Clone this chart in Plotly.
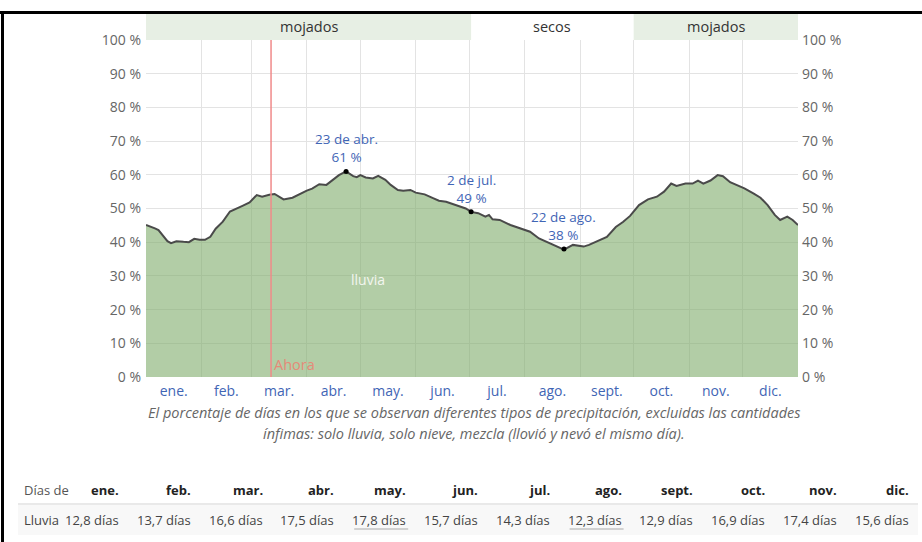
import plotly.graph_objects as go

# ---------------- data ----------------
days = [0, 3, 5, 7, 10, 12, 14, 17, 21, 24, 27, 30, 33, 36, 39, 43, 47, 51, 54, 58,
        62, 65, 69, 72, 77, 82, 86, 90, 93, 97, 101, 105, 108, 112, 116, 118, 120, 123,
        127, 130, 134, 137, 141, 144, 148, 151, 156, 161, 164, 168, 174, 179, 182, 186,
        190, 192, 194, 198, 204, 209, 215, 220, 226, 231, 234, 239, 245, 248, 254, 258,
        263, 267, 271, 276, 281, 286, 290, 294, 297, 302, 306, 309, 312, 316, 320, 323,
        327, 331, 335, 340, 344, 348, 352, 355, 359, 362, 365]
rain_pct = [45.1, 44.6, 44.1, 43.6, 41.5, 40.3, 39.7, 40.3, 40.1, 40.0, 41.0, 40.7, 40.7,
            41.6, 44.0, 46.1, 49.1, 50.2, 50.8, 51.8, 54.0, 53.5, 54.1, 54.3, 52.7, 53.2,
            54.3, 55.3, 55.9, 57.2, 57.0, 58.5, 59.9, 61.0, 59.6, 59.3, 59.9, 59.2, 58.9,
            59.7, 58.5, 57.0, 55.5, 55.3, 55.5, 54.7, 54.2, 53.0, 52.3, 52.0, 51.0, 50.0,
            49.0, 48.6, 47.6, 48.1, 46.8, 46.6, 45.1, 44.1, 43.1, 41.1, 39.7, 38.5, 37.8,
            39.2, 38.7, 39.2, 40.7, 41.6, 44.5, 46.0, 47.8, 51.0, 52.7, 53.5, 55.0, 57.4,
            56.7, 57.4, 57.4, 58.3, 57.4, 58.3, 59.9, 59.6, 57.8, 57.0, 56.0, 54.5, 53.2,
            51.0, 48.1, 46.6, 47.6, 46.6, 45.1]

month_labels = ["ene.", "feb.", "mar.", "abr.", "may.", "jun.", "jul.", "ago.", "sept.",
                "oct.", "nov.", "dic."]
month_starts = [0, 31, 59, 90, 120, 151, 181, 212, 243, 273, 304, 334, 365]
y_ticks = [0, 10, 20, 30, 40, 50, 60, 70, 80, 90, 100]
y_ticktext = [f"{v} %" for v in y_ticks]

highlight_days = [112, 182, 234]
highlight_vals = [61, 49, 38]
highlight_labels = ["23 de abr.", "2 de jul.", "22 de ago."]

seasons = [("mojados", 0, 182, True), ("secos", 182, 273, False), ("mojados", 273, 365, True)]
now_day = 70

table_values = ["12,8 días", "13,7 días", "16,6 días", "17,5 días", "17,8 días", "15,7 días",
                "14,3 días", "12,3 días", "12,9 días", "16,9 días", "17,4 días", "15,6 días"]

# ---------------- layout helpers ----------------
W, H = 922, 542
L, R, T, B = 146, 798, 40, 377


def px(xp):
    return (xp - L) / (R - L)


def py(yp):
    return (B - yp) / (B - T)


month_mids = [(month_starts[i] + month_starts[i + 1]) / 2 for i in range(12)]
blue = "#3f65b5"
gray = "#666666"
FONT = "Open Sans, Noto Sans, sans-serif"

fig = go.Figure()

fig.add_trace(go.Scatter(
    x=days, y=rain_pct, mode="lines", fill="tozeroy",
    line=dict(color="#4a4a4a", width=2),
    fillcolor="rgba(127,172,107,0.6)", hoverinfo="skip", showlegend=False))

fig.add_trace(go.Scatter(
    x=highlight_days, y=highlight_vals, mode="markers",
    marker=dict(color="black", size=5), showlegend=False, hoverinfo="skip"))

# invisible trace to activate secondary axes
fig.add_trace(go.Scatter(x=[0, 365], y=[0, 100], xaxis="x2", yaxis="y2", mode="markers",
                         marker=dict(opacity=0), showlegend=False, hoverinfo="skip"))

shapes = []
annotations = []

# season band
band_top = py(14)
for name, d0, d1, wet in seasons:
    if wet:
        shapes.append(dict(type="rect", xref="x", yref="paper", x0=d0, x1=d1, y0=1, y1=band_top,
                           fillcolor="#e7efe4", line=dict(width=0), layer="below"))
    annotations.append(dict(x=(d0 + d1) / 2, y=py(27), xref="x", yref="paper", text=name,
                            showarrow=False, yanchor="middle", xanchor="center",
                            font=dict(size=14.5, color="#333333", family=FONT)))

# now line
shapes.append(dict(type="line", xref="x", yref="y", x0=now_day, x1=now_day, y0=0, y1=100,
                   line=dict(color="#f08a8a", width=1.5)))
annotations.append(dict(x=now_day, y=0, xref="x", yref="y", text="Ahora", showarrow=False,
                        xanchor="left", yanchor="bottom", xshift=1, yshift=1,
                        font=dict(size=14.5, color="#e58a78", family=FONT)))

# series label
annotations.append(dict(x=124, y=29, xref="x", yref="y", text="lluvia", showarrow=False,
                        xanchor="center", yanchor="middle",
                        font=dict(size=14, color="#f2f6ef", family=FONT)))

# highlight annotations
for d, v, lab in zip(highlight_days, highlight_vals, highlight_labels):
    annotations.append(dict(x=d, y=v, xref="x", yref="y", text=f"{lab}<br>{v} %",
                            showarrow=False, yanchor="bottom", xanchor="center", yshift=3,
                            font=dict(size=13.5, color=blue, family=FONT)))

# frame lines
shapes.append(dict(type="line", xref="paper", yref="paper", x0=px(0), x1=px(W), y0=py(12.5), y1=py(12.5),
                   line=dict(color="black", width=3)))
shapes.append(dict(type="line", xref="paper", yref="paper", x0=px(2.5), x1=px(2.5), y0=py(12.5), y1=py(H),
                   line=dict(color="black", width=3)))

# caption
annotations.append(dict(x=px(474), y=py(413), xref="paper", yref="paper",
                        text="<i>El porcentaje de días en los que se observan diferentes tipos de precipitación, excluidas las cantidades</i>",
                        showarrow=False, xanchor="center", yanchor="middle",
                        font=dict(size=14.5, color=gray, family=FONT)))
annotations.append(dict(x=px(474), y=py(433), xref="paper", yref="paper",
                        text="<i>ínfimas: solo lluvia, solo nieve, mezcla (llovió y nevó el mismo día).</i>",
                        showarrow=False, xanchor="center", yanchor="middle",
                        font=dict(size=14.5, color=gray, family=FONT)))

# table
shapes.append(dict(type="rect", xref="paper", yref="paper", x0=px(18), x1=px(918), y0=py(505), y1=py(535),
                   fillcolor="#f8f8f8", line=dict(width=0), layer="below"))
shapes.append(dict(type="line", xref="paper", yref="paper", x0=px(18), x1=px(918), y0=py(504), y1=py(504),
                   line=dict(color="#e2e2e2", width=1.5)))
annotations.append(dict(x=px(22), y=py(490), xref="paper", yref="paper", text="Días de",
                        xanchor="left", yanchor="middle", showarrow=False,
                        font=dict(size=13, color="#555555", family=FONT)))
annotations.append(dict(x=px(22), y=py(520), xref="paper", yref="paper", text="Lluvia",
                        xanchor="left", yanchor="middle", showarrow=False,
                        font=dict(size=13, color="#444444", family=FONT)))
col_right = [121 + k * 71.8 for k in range(12)]
for k, (m, val) in enumerate(zip(month_labels, table_values)):
    annotations.append(dict(x=px(col_right[k]), y=py(490), xref="paper", yref="paper",
                            text=f"<b>{m}</b>", xanchor="right", yanchor="middle", showarrow=False,
                            font=dict(size=13, color="#222222", family=FONT)))
    annotations.append(dict(x=px(col_right[k]), y=py(520), xref="paper", yref="paper",
                            text=val, xanchor="right", yanchor="middle", showarrow=False,
                            font=dict(size=13, color="#444444", family=FONT)))
# underline max / min months
nums = [float(v.split()[0].replace(",", ".")) for v in table_values]
for k in (nums.index(max(nums)), nums.index(min(nums))):
    shapes.append(dict(type="line", xref="paper", yref="paper",
                       x0=px(col_right[k] - 54), x1=px(col_right[k]), y0=py(529), y1=py(529),
                       line=dict(color="#aaaaaa", width=1)))

fig.update_layout(
    width=W, height=H,
    margin=dict(l=L, r=W - R, t=T, b=H - B),
    paper_bgcolor="white", plot_bgcolor="white",
    font=dict(family=FONT, size=12, color=gray),
    showlegend=False,
    xaxis=dict(range=[0, 365], tickvals=month_starts, showticklabels=False, showgrid=True,
               gridcolor="#e3e3e3", gridwidth=1, zeroline=False, ticks="", fixedrange=True),
    xaxis2=dict(range=[0, 365], overlaying="x", side="bottom", anchor="y", tickvals=month_mids,
                ticktext=month_labels, showgrid=False, zeroline=False, ticks="",
                ticklabelstandoff=4,
                tickfont=dict(size=14, color=blue, family=FONT)),
    yaxis=dict(range=[0, 100], tickvals=y_ticks, ticktext=y_ticktext, showgrid=True,
               gridcolor="#e3e3e3", zeroline=False, ticks="", ticklabelstandoff=4,
               tickfont=dict(size=14, color=gray)),
    yaxis2=dict(range=[0, 100], overlaying="y", side="right", anchor="x", tickvals=y_ticks,
                ticktext=y_ticktext, showgrid=False, zeroline=False, ticks="", ticklabelstandoff=3,
                tickfont=dict(size=14, color=gray)),
    shapes=shapes, annotations=annotations,
)

fig.write_html("out.html", config={"displayModeBar": False},
               post_script="document.body.style.margin='0';")
